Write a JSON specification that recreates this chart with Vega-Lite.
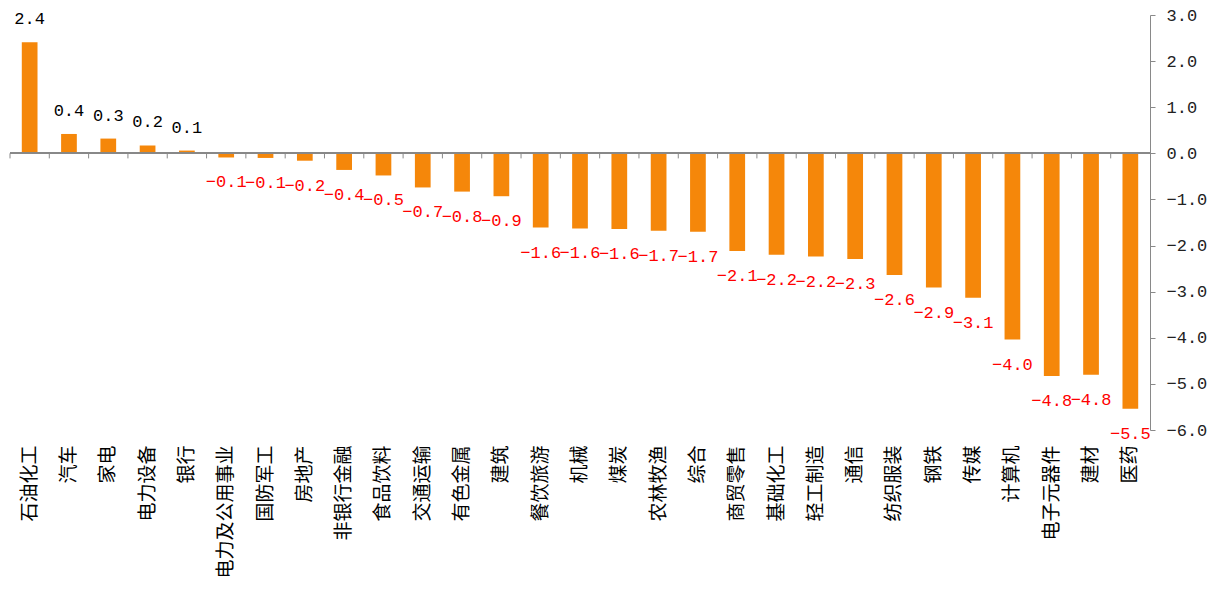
{
  "$schema": "https://vega.github.io/schema/vega-lite/v6.json",
  "autosize": "none",
  "width": 1140,
  "height": 415,
  "padding": {"left": 10, "top": 15, "right": 68, "bottom": 175},
  "background": "white",
  "config": {"view": {"stroke": null}},
  "data": {
    "values": [
      {"c": "石油化工", "v": 2.41},
      {"c": "汽车", "v": 0.42},
      {"c": "家电", "v": 0.32},
      {"c": "电力设备", "v": 0.17},
      {"c": "银行", "v": 0.06},
      {"c": "电力及公用事业", "v": -0.09},
      {"c": "国防军工", "v": -0.1},
      {"c": "房地产", "v": -0.16},
      {"c": "非银行金融", "v": -0.36},
      {"c": "食品饮料", "v": -0.48},
      {"c": "交通运输", "v": -0.74},
      {"c": "有色金属", "v": -0.83},
      {"c": "建筑", "v": -0.93},
      {"c": "餐饮旅游", "v": -1.61},
      {"c": "机械", "v": -1.63},
      {"c": "煤炭", "v": -1.64},
      {"c": "农林牧渔", "v": -1.68},
      {"c": "综合", "v": -1.7},
      {"c": "商贸零售", "v": -2.12},
      {"c": "基础化工", "v": -2.2},
      {"c": "轻工制造", "v": -2.24},
      {"c": "通信", "v": -2.29},
      {"c": "纺织服装", "v": -2.64},
      {"c": "钢铁", "v": -2.91},
      {"c": "传媒", "v": -3.13},
      {"c": "计算机", "v": -4.04},
      {"c": "电子元器件", "v": -4.83},
      {"c": "建材", "v": -4.8},
      {"c": "医药", "v": -5.54}
    ]
  },
  "layer": [
    {
      "mark": {"type": "bar", "color": "#F5870A", "width": {"band": 0.4}},
      "encoding": {
        "x": {
          "field": "c", "type": "nominal", "sort": null,
          "scale": {"paddingInner": 0, "paddingOuter": 0},
          "axis": {
            "orient": "bottom", "title": null, "domain": false, "ticks": false,
            "labelAngle": -90, "labelFont": "Noto Sans CJK SC", "labelFontSize": 19,
            "labelColor": "#000000", "labelPadding": 15, "labelLimit": 300
          }
        },
        "y": {
          "field": "v", "type": "quantitative",
          "scale": {"domain": [-6, 3], "nice": false},
          "axis": {
            "orient": "right", "title": null, "grid": false,
            "values": [-6, -5, -4, -3, -2, -1, 0, 1, 2, 3], "format": ".1f",
            "labelFont": "Liberation Mono", "labelFontSize": 17, "labelColor": "#222222",
            "domainColor": "#898989", "tickColor": "#898989", "tickSize": 5, "labelPadding": 11
          }
        }
      }
    },
    {
      "mark": {"type": "rule", "color": "#898989", "strokeWidth": 1},
      "encoding": {"y": {"datum": 0}}
    },
    {
      "mark": {"type": "rule", "color": "#898989", "strokeWidth": 1},
      "encoding": {
        "x": {"field": "c", "type": "nominal", "sort": null, "bandPosition": 0},
        "y": {"datum": 0},
        "y2": {"datum": -0.11}
      }
    },
    {
      "transform": [{"filter": "datum.v > 0"}],
      "mark": {"type": "text", "font": "Liberation Mono", "fontSize": 17, "color": "#000000", "baseline": "middle", "dy": -23},
      "encoding": {
        "x": {"field": "c", "type": "nominal", "sort": null},
        "y": {"field": "v", "type": "quantitative"},
        "text": {"field": "v", "type": "quantitative", "format": ".1f"}
      }
    },
    {
      "transform": [{"filter": "datum.v < 0"}],
      "mark": {"type": "text", "font": "Liberation Mono", "fontSize": 17, "color": "#FF0000", "baseline": "middle", "dy": 25},
      "encoding": {
        "x": {"field": "c", "type": "nominal", "sort": null},
        "y": {"field": "v", "type": "quantitative"},
        "text": {"field": "v", "type": "quantitative", "format": ".1f"}
      }
    }
  ]
}
